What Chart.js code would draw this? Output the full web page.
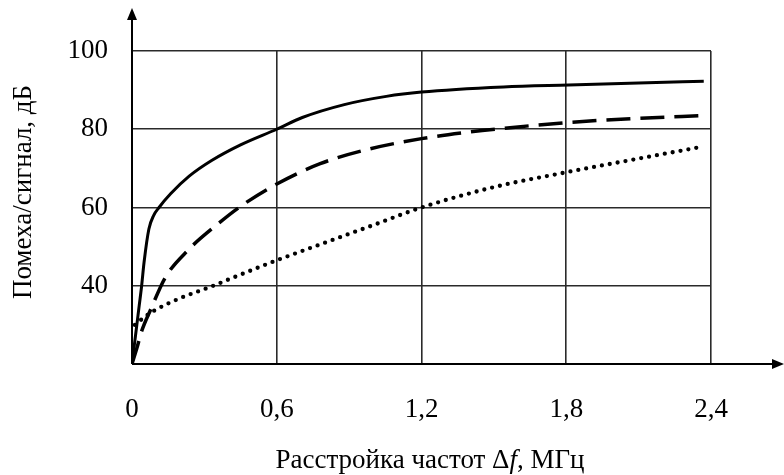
<!DOCTYPE html>
<html>
<head>
<meta charset="utf-8">
<script src="https://cdn.jsdelivr.net/npm/chart.js@4/dist/chart.umd.min.js"></script>
<style>
  html, body { margin: 0; padding: 0; background: #fff; }
  canvas { display: block; }
</style>
</head>
<body>
<canvas id="c" width="784" height="475"></canvas>
<script>
// Interference-to-signal ratio vs. frequency detuning, three cases
const xTicks = [0, 0.6, 1.2, 1.8, 2.4];
const yTicks = [20, 40, 60, 80, 100];

const solidX = [0, 0.01, 0.02, 0.03, 0.04, 0.05, 0.07, 0.09, 0.112, 0.16, 0.237, 0.33, 0.45, 0.6, 0.706, 0.88, 1.054, 1.2, 1.54, 1.81, 2.1, 2.37];
const solidY = [20, 25, 30, 35, 40, 46, 54.5, 58, 60, 63.5, 68, 72, 76, 80, 83, 86.3, 88.4, 89.5, 90.8, 91.3, 91.8, 92.3];

const dashedX = [0, 0.02, 0.04, 0.078, 0.137, 0.234, 0.35, 0.45, 0.6, 0.78, 0.98, 1.2, 1.4, 1.6, 1.8, 2.1, 2.37];
const dashedY = [20, 24, 28.4, 34, 42, 49.2, 55.5, 60.3, 66, 71.2, 74.9, 77.6, 79.3, 80.6, 81.7, 82.8, 83.5];

const dottedX = [0.012, 0.05, 0.091, 0.195, 0.333, 0.424, 0.6, 0.8, 1.0, 1.2, 1.5, 1.8, 2.1, 2.37];
const dottedY = [30, 31.9, 33.6, 36.7, 39.9, 42.2, 46.5, 51, 55.5, 60, 65.2, 69, 72.5, 75.6];

const xTitleParts = [
  { text: 'Расстройка частот Δ', italic: false },
  { text: 'f', italic: true },
  { text: ', МГц', italic: false }
];
const yTitle = 'Помеха/сигнал, дБ';

const FONT = '"Liberation Serif", "Times New Roman", serif';
const FONT_SIZE = 27;
const INK = '#000';
const GRID = '#2a2a2a';

const pts = (xs, ys) => xs.map((x, i) => ({ x, y: ys[i] }));

// Axis arrows and axis titles
const decor = {
  id: 'decor',
  afterDraw(chart) {
    const { ctx, chartArea: a, width } = chart;
    ctx.save();
    ctx.strokeStyle = INK;
    ctx.fillStyle = INK;
    ctx.lineWidth = 2;
    // x axis extension and arrow
    ctx.beginPath();
    ctx.moveTo(a.left, a.bottom);
    ctx.lineTo(width - 8, a.bottom);
    ctx.stroke();
    ctx.beginPath();
    ctx.moveTo(width, a.bottom);
    ctx.lineTo(width - 12, a.bottom - 5);
    ctx.lineTo(width - 12, a.bottom + 5);
    ctx.closePath();
    ctx.fill();
    // y axis extension and arrow
    ctx.beginPath();
    ctx.moveTo(a.left, a.bottom);
    ctx.lineTo(a.left, 18);
    ctx.stroke();
    ctx.beginPath();
    ctx.moveTo(a.left, 8);
    ctx.lineTo(a.left - 5, 20);
    ctx.lineTo(a.left + 5, 20);
    ctx.closePath();
    ctx.fill();

    // x title with italic f
    ctx.textBaseline = 'alphabetic';
    ctx.textAlign = 'left';
    let total = 0;
    const widths = xTitleParts.map(p => {
      ctx.font = (p.italic ? 'italic ' : '') + FONT_SIZE + 'px ' + FONT;
      const w = ctx.measureText(p.text).width;
      total += w;
      return w;
    });
    let x = 430 - total / 2;
    const by = 468;
    xTitleParts.forEach((p, i) => {
      ctx.font = (p.italic ? 'italic ' : '') + FONT_SIZE + 'px ' + FONT;
      ctx.fillText(p.text, x, by);
      x += widths[i];
    });

    // y title
    ctx.font = FONT_SIZE + 'px ' + FONT;
    ctx.textAlign = 'center';
    ctx.textBaseline = 'middle';
    ctx.translate(24, 192);
    ctx.rotate(-Math.PI / 2);
    ctx.fillText(yTitle, 0, 0);
    ctx.restore();
  }
};

new Chart(document.getElementById('c'), {
  type: 'scatter',
  data: {
    datasets: [
      {
        data: pts(solidX, solidY),
        showLine: true,
        borderColor: INK,
        borderWidth: 3,
        pointRadius: 0,
        cubicInterpolationMode: 'monotone'
      },
      {
        data: pts(dashedX, dashedY),
        showLine: true,
        borderColor: INK,
        borderWidth: 3.5,
        borderDash: [24, 10],
        pointRadius: 0,
        cubicInterpolationMode: 'monotone'
      },
      {
        data: pts(dottedX, dottedY),
        showLine: true,
        borderColor: INK,
        borderWidth: 4.3,
        borderDash: [0, 8],
        borderCapStyle: 'round',
        pointRadius: 0,
        cubicInterpolationMode: 'monotone'
      }
    ]
  },
  options: {
    responsive: false,
    animation: false,
    devicePixelRatio: 1,
    layout: { padding: { top: 51, right: 73, left: 0, bottom: 0 } },
    plugins: { legend: { display: false }, tooltip: { enabled: false } },
    scales: {
      x: {
        type: 'linear',
        min: 0,
        max: 2.4,
        afterFit(scale) { scale.height = 475 - 364; },
        afterBuildTicks(scale) { scale.ticks = xTicks.map(v => ({ value: v })); },
        grid: { color: GRID, lineWidth: 1.6, drawTicks: false },
        border: { display: false },
        ticks: {
          padding: 30,
          color: INK,
          font: { family: FONT, size: FONT_SIZE },
          maxRotation: 0,
          callback: v => (v === 0 ? '0' : Number(v).toFixed(1).replace('.', ','))
        }
      },
      y: {
        type: 'linear',
        min: 20,
        max: 100,
        afterFit(scale) { scale.width = 132; },
        afterBuildTicks(scale) { scale.ticks = yTicks.map(v => ({ value: v })); },
        grid: { color: GRID, lineWidth: 1.6, drawTicks: false },
        border: { display: false },
        ticks: {
          padding: 24,
          color: INK,
          font: { family: FONT, size: FONT_SIZE },
          callback: v => (v === 20 ? '' : String(v))
        }
      }
    }
  },
  plugins: [decor]
});
</script>
</body>
</html>
